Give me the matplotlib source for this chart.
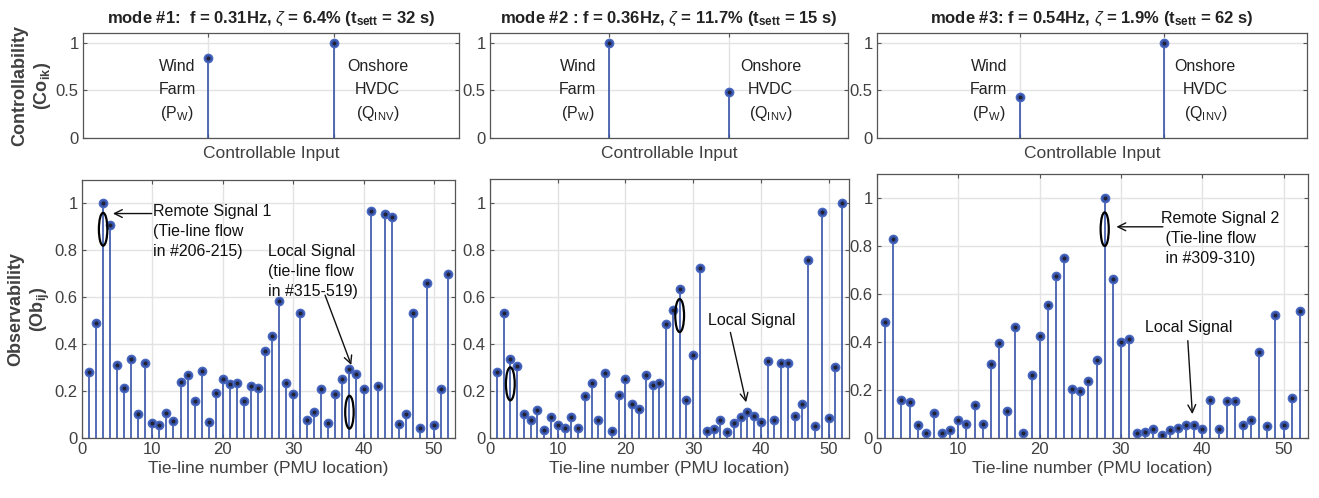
import matplotlib
matplotlib.use("Agg")
import matplotlib.pyplot as plt
from matplotlib.patches import Ellipse
import numpy as np

plt.rcParams['font.family'] = ['Liberation Sans', 'DejaVu Sans']
plt.rcParams['mathtext.fontset'] = 'custom'
plt.rcParams['mathtext.rm'] = 'Liberation Sans'
plt.rcParams['mathtext.it'] = 'Liberation Sans:italic'
plt.rcParams['mathtext.bf'] = 'Liberation Sans:bold'

# ---------------- data ----------------
inputs = [1, 2]
ctrl_mode1 = [0.84, 1.0]
ctrl_mode2 = [1.0, 0.48]
ctrl_mode3 = [0.43, 1.0]

tie_lines = list(range(1, 53))
obs_mode1 = [0.28, 0.49, 1.0, 0.91, 0.31, 0.214, 0.335, 0.104, 0.32, 0.065,
             0.057, 0.108, 0.072, 0.237, 0.27, 0.159, 0.285, 0.068, 0.19, 0.25,
             0.231, 0.234, 0.156, 0.223, 0.214, 0.372, 0.434, 0.586, 0.234, 0.187,
             0.532, 0.077, 0.112, 0.21, 0.065, 0.187, 0.25, 0.295, 0.274, 0.207,
             0.967, 0.221, 0.953, 0.942, 0.061, 0.102, 0.532, 0.043, 0.661, 0.057,
             0.21, 0.70]
obs_mode2 = [0.28, 0.53, 0.334, 0.307, 0.103, 0.076, 0.117, 0.035, 0.089, 0.057,
             0.042, 0.089, 0.042, 0.178, 0.235, 0.078, 0.277, 0.03, 0.182, 0.252,
             0.143, 0.122, 0.266, 0.225, 0.235, 0.485, 0.543, 0.634, 0.163, 0.352,
             0.723, 0.03, 0.038, 0.075, 0.025, 0.065, 0.09, 0.109, 0.093, 0.068,
             0.328, 0.078, 0.32, 0.317, 0.093, 0.143, 0.754, 0.052, 0.959, 0.085,
             0.30, 1.0]
obs_mode3 = [0.485, 0.831, 0.158, 0.148, 0.055, 0.019, 0.105, 0.019, 0.035, 0.076,
             0.06, 0.136, 0.06, 0.307, 0.396, 0.112, 0.461, 0.019, 0.262, 0.427,
             0.553, 0.676, 0.752, 0.204, 0.197, 0.238, 0.327, 1.0, 0.663, 0.40,
             0.411, 0.019, 0.024, 0.039, 0.014, 0.032, 0.043, 0.055, 0.053, 0.039,
             0.158, 0.039, 0.154, 0.154, 0.055, 0.073, 0.36, 0.051, 0.514, 0.055,
             0.165, 0.529]

titles = [r"mode #1:  f = 0.31Hz, $\zeta$ = 6.4% (t$_{\mathbf{sett}}$ = 32 s)",
          r"mode #2 : f = 0.36Hz, $\zeta$ = 11.7% (t$_{\mathbf{sett}}$ = 15 s)",
          r"mode #3: f = 0.54Hz, $\zeta$ = 1.9% (t$_{\mathbf{sett}}$ = 62 s)"]

# ---------------- style ----------------
W, H = 1319, 498
fig = plt.figure(figsize=(W / 100, H / 100), dpi=100)

BLUE = '#3553a8'
TICKC = '#404040'
GRIDC = '#e3e3e3'

def fr(x0, y0, x1, y1):
    return [x0 / W, 1 - y1 / H, (x1 - x0) / W, (y1 - y0) / H]

top_pos = [fr(83, 33, 459, 138), fr(490, 33, 848, 138), fr(877, 33, 1307, 138)]
bot_pos = [fr(82, 180, 455, 438), fr(490, 179, 849, 438), fr(877, 174, 1308, 438)]

def style(ax):
    ax.set_axisbelow(True)
    ax.grid(True, color=GRIDC, lw=1.0)
    for s in ax.spines.values():
        s.set_color('#555555')
        s.set_linewidth(0.9)
    ax.tick_params(direction='in', length=3, colors='#555555', labelcolor=TICKC,
                   labelsize=12, top=True, right=True, pad=3)

def stems(ax, x, y):
    ml, sl, bl = ax.stem(x, y, basefmt=' ')
    plt.setp(sl, color=BLUE, lw=1.2)
    plt.setp(ml, color=BLUE, marker='o', markersize=6, markerfacecolor=BLUE,
             markeredgecolor='#4a68c0')
    ax.plot(x, y, ls='none', marker='.', markersize=3.5, color='#222233')

ctrl = [ctrl_mode1, ctrl_mode2, ctrl_mode3]
obs = [obs_mode1, obs_mode2, obs_mode3]

wind_x = [0.75, 0.735, 0.78]
on_x = [2.35, 2.35, 2.29]

for i in range(3):
    ax = fig.add_axes(top_pos[i])
    style(ax)
    stems(ax, inputs, ctrl[i])
    ax.set_xlim(0, 3)
    ax.set_ylim(0, 1.1)
    ax.set_xticks(inputs)
    ax.set_xticklabels([])
    ax.set_yticks([0, 0.5, 1])
    ax.set_yticklabels(['0', '0.5', '1'])
    ax.set_xlabel('Controllable Input', fontsize=12.5, color=TICKC, labelpad=3)
    ax.set_title(titles[i], fontsize=12, fontweight='bold', color='#222222', pad=7)
    tk = dict(fontsize=11.5, color='#222222', ha='center', va='center')
    ax.text(wind_x[i], 0.75, 'Wind', **tk)
    ax.text(wind_x[i], 0.51, 'Farm', **tk)
    ax.text(wind_x[i], 0.26, r'(P$_\mathrm{W}$)', **tk)
    ax.text(on_x[i], 0.75, 'Onshore', **tk)
    ax.text(on_x[i], 0.51, 'HVDC', **tk)
    ax.text(on_x[i], 0.26, r'(Q$_\mathrm{INV}$)', **tk)
    if i == 0:
        ax.set_ylabel('Controllability\n' + r'(Co$_\mathbf{ik}$)', fontsize=13,
                      fontweight='bold', color='#404040', labelpad=2, linespacing=1.25)

bax = []
for i in range(3):
    ax = fig.add_axes(bot_pos[i])
    style(ax)
    stems(ax, tie_lines, obs[i])
    ax.set_xlim(0, 53)
    ax.set_ylim(0, 1.1)
    ax.set_xticks([0, 10, 20, 30, 40, 50])
    ax.set_yticks([0, 0.2, 0.4, 0.6, 0.8, 1])
    ax.set_yticklabels(['0', '0.2', '0.4', '0.6', '0.8', '1'])
    ax.set_xlabel('Tie-line number (PMU location)', fontsize=12.5, color=TICKC, labelpad=3)
    bax.append(ax)
    if i == 0:
        ax.set_ylabel('Observability\n' + r'(Ob$_\mathbf{ij}$)', fontsize=13,
                      fontweight='bold', color='#404040', labelpad=2, linespacing=1.3)

def ell(ax, x, y, w, h):
    ax.add_patch(Ellipse((x, y), w, h, fill=False, ec='black', lw=1.6, zorder=5))

ann = dict(fontsize=11.5, color='#111111', ha='left', va='center', linespacing=1.4)
arr = dict(arrowstyle='->', color='#111111', lw=1.0, mutation_scale=14)

# mode 1
ax = bax[0]
ell(ax, 3, 0.89, 1.2, 0.14)
ell(ax, 38, 0.11, 1.2, 0.14)
ax.text(10.1, 0.88, 'Remote Signal 1\n(Tie-line flow\nin #206-215)', **ann)
ax.annotate('', xy=(4.0, 0.957), xytext=(10.3, 0.957), arrowprops=arr)
ax.text(26.5, 0.71, 'Local Signal\n(tie-line flow\nin #315-519)', **ann)
ax.annotate('', xy=(38.4, 0.30), xytext=(34.4, 0.62), arrowprops=arr)

# mode 2
ax = bax[1]
ell(ax, 3, 0.23, 1.3, 0.14)
ell(ax, 28, 0.52, 1.3, 0.14)
ax.text(32.2, 0.50, 'Local Signal', **ann)
ax.annotate('', xy=(37.9, 0.14), xytext=(35.4, 0.46), arrowprops=arr)

# mode 3
ax = bax[2]
ell(ax, 28, 0.87, 1.0, 0.14)
ax.text(34.9, 0.83, 'Remote Signal 2\n (Tie-line flow\n in #309-310)', **ann)
ax.annotate('', xy=(29.1, 0.88), xytext=(35.5, 0.88), arrowprops=arr)
ax.text(33.0, 0.46, 'Local Signal', **ann)
ax.annotate('', xy=(38.8, 0.088), xytext=(38.2, 0.417), arrowprops=arr)

fig.savefig('out.png', dpi=100)
